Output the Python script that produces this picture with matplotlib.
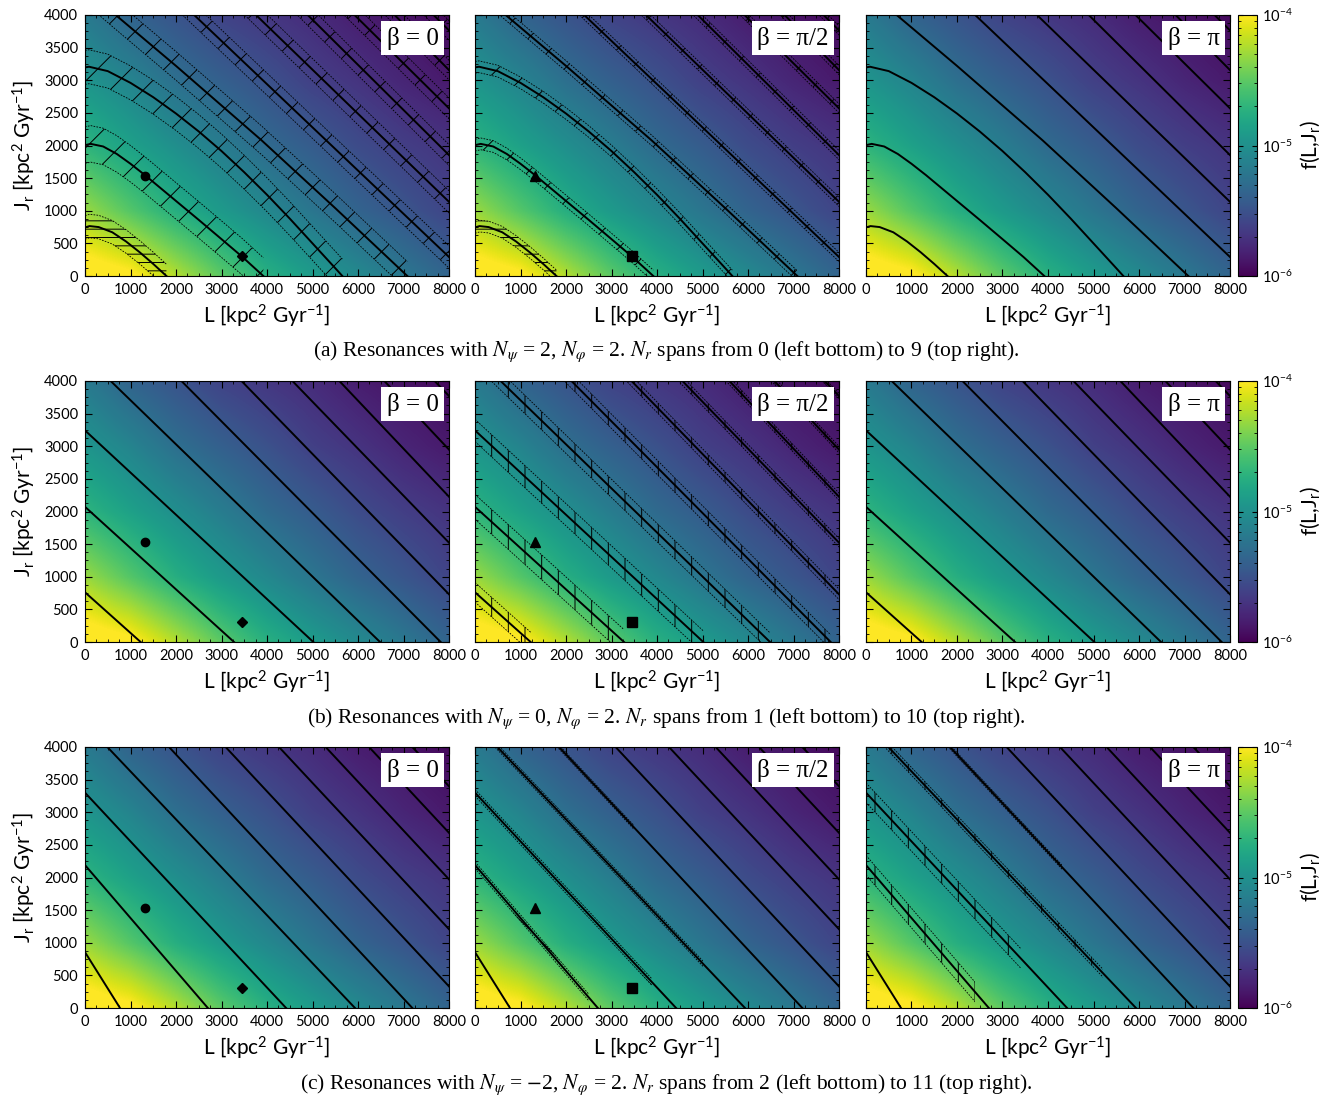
import numpy as np
import matplotlib.pyplot as plt
from matplotlib.colors import LogNorm
from matplotlib.cm import ScalarMappable
from matplotlib.patches import Rectangle
from matplotlib.ticker import MultipleLocator

plt.rcParams['font.family'] = ['Lato', 'DejaVu Sans']
plt.rcParams['mathtext.fontset'] = 'stix'
plt.rcParams['hatch.linewidth'] = 0.7
plt.rcParams['hatch.color'] = 'black'

L_nodos = [0, 1000, 2000, 3000, 4000, 5000, 6000, 7000, 8000]
Jr_nodos = [0, 1000, 2000, 3000, 4000]
log_f = [
    [-3.85, -3.95, -4.22, -4.50, -4.73, -4.90, -5.05, -5.20, -5.35],
    [-4.30, -4.53, -4.75, -4.92, -5.07, -5.22, -5.36, -5.47, -5.59],
    [-4.70, -4.86, -5.01, -5.16, -5.31, -5.42, -5.54, -5.63, -5.70],
    [-4.96, -5.10, -5.27, -5.39, -5.50, -5.62, -5.70, -5.79, -5.86],
    [-5.18, -5.36, -5.48, -5.60, -5.68, -5.75, -5.84, -5.90, -5.95],
]

# lineas de resonancia (L, Jr) por fila
lineas_a = [
    ([0, 100, 300, 600, 900, 1200, 1500, 1790], [745, 765, 750, 670, 530, 365, 185, 0]),
    ([0, 125, 400, 700, 1000, 1320, 2000, 2500, 3000, 3460, 3919],
     [2005, 2025, 1985, 1870, 1720, 1545, 1150, 860, 565, 292, 0]),
    ([0, 90, 500, 1000, 1500, 2000, 2500, 3000, 3500, 4000, 4500, 5000, 5500, 5656],
     [3197, 3207, 3140, 2960, 2740, 2490, 2215, 1915, 1590, 1245, 880, 500, 120, 0]),
    ([0, 674, 2000, 3880, 5500, 7084], [4404, 4000, 3220, 2080, 1040, 0]),
    ([0, 8440], [5589, 0]),
    ([0, 9684], [6537, 0]),
    ([0, 10680], [7385, 0]),
    ([0, 11729], [8082, 0]),
    ([0, 12470], [8804, 0]),
    ([0, 13386], [9354, 0]),
]
lineas_b = [
    ([0, 1223], [762, 0]),
    ([0, 3275], [2072, 0]),
    ([0, 5018], [3243, 0]),
    ([0, 6484], [4381, 0]),
    ([0, 7817], [5488, 0]),
    ([0, 9020], [6466, 0]),
    ([0, 10114], [7283, 0]),
    ([0, 11026], [8114, 0]),
    ([0, 11985], [8869, 0]),
    ([0, 13164], [9610, 0]),
]
lineas_c = [
    ([0, 769], [856, 0]),
    ([0, 2700], [2190, 0]),
    ([0, 4420], [3300, 0]),
    ([0, 5934], [4361, 0]),
    ([0, 7194], [5381, 0]),
    ([0, 8443], [6309, 0]),
    ([0, 9617], [7185, 0]),
    ([0, 10636], [7956, 0]),
    ([0, 11590], [8669, 0]),
    ([0, 12549], [9374, 0]),
]
lineas = [lineas_a, lineas_b, lineas_c]

# bandas rayadas: (indice de linea, semiancho en Jr, hatch, L min, L max)
bandas = {
    (0, 0): [(0, 180, '--', 0, 2300), (1, 280, '/', 0, 4300), (2, 260, '/', 0, 8000),
             (3, 220, '/', 0, 8000), (4, 170, '/', 0, 8000), (5, 170, '/', 0, 8000),
             (6, 160, '/', 0, 8000), (7, 160, '/', 0, 8000), (8, 150, '/', 0, 8000),
             (9, 150, '/', 0, 8000)],
    (0, 1): [(0, 90, '--', 0, 2000), (1, 90, '/', 0, 4000), (2, 90, '/', 0, 8000),
             (3, 80, '/', 0, 8000), (4, 70, '/', 0, 8000), (5, 70, '/', 0, 8000),
             (6, 70, '/', 0, 8000), (7, 70, '/', 0, 8000), (8, 70, '/', 0, 8000),
             (9, 70, '/', 0, 8000)],
    (1, 1): [(0, 150, '|', 0, 1400), (1, 190, '|', 0, 3400), (2, 170, '|', 0, 8000),
             (3, 140, '|', 0, 8000), (4, 110, '|', 0, 8000), (5, 80, '|', 0, 8000),
             (6, 65, '|', 0, 8000), (7, 55, '|', 0, 8000), (8, 50, '|', 0, 8000),
             (9, 40, '|', 0, 8000)],
    (2, 1): [(1, 50, '\\', 0, 2500), (2, 50, '\\', 0, 3900), (3, 40, '\\', 300, 5000),
             (4, 30, '\\', 1800, 3500)],
    (2, 2): [(1, 150, '|', 0, 2400), (2, 150, '|', 0, 3400), (3, 60, '|', 400, 5200),
             (4, 30, '|', 1800, 4300)],
}

# puntos de referencia
marca_L = [1320, 3450]
marca_Jr = [1540, 300]
marcas = [['o', 'D'], ['^', 's'], []]
tam_marcas = {'o': 6, 'D': 5.5, '^': 7, 's': 6.5}

betas = ['β = 0', 'β = π/2', 'β = π']
leyendas = [
    r'(a) Resonances with $N_\psi$ = 2, $N_\varphi$ = 2. $N_r$ spans from 0 (left bottom) to 9 (top right).',
    r'(b) Resonances with $N_\psi$ = 0, $N_\varphi$ = 2. $N_r$ spans from 1 (left bottom) to 10 (top right).',
    r'(c) Resonances with $N_\psi$ = $-$2, $N_\varphi$ = 2. $N_r$ spans from 2 (left bottom) to 11 (top right).',
]

W, H = 1333, 1099
fig = plt.figure(figsize=(W / 100, H / 100), dpi=100)

col_x = [85, 475, 866]
fila_y = [15, 381, 747]
ancho, alto = 364, 261
leyenda_y = [352, 719, 1085]

for r in range(3):
    for c in range(3):
        ax = fig.add_axes([col_x[c] / W, 1 - (fila_y[r] + alto) / H, ancho / W, alto / H])
        ax.imshow(log_f, extent=[-500, 8500, -500, 4500], origin='lower', cmap='viridis',
                  vmin=-6, vmax=-4, interpolation='bilinear', interpolation_stage='data',
                  aspect='auto')
        for Lp, Jp in lineas[r]:
            ax.plot(Lp, Jp, color='k', lw=1.4)
        for i, w, h, lo, hi in bandas.get((r, c), []):
            Lp = np.array(lineas[r][i][0], dtype=float)
            Jp = np.array(lineas[r][i][1], dtype=float)
            recorte = Rectangle((lo, 0), hi - lo, 4000, transform=ax.transData)
            fb = ax.fill_between(Lp, Jp - w, Jp + w, facecolor='none', edgecolor='k',
                                 hatch=h, linewidth=0)
            fb.set_clip_path(recorte)
            for s in (-1, 1):
                ln, = ax.plot(Lp, Jp + s * w, color='k', lw=0.6, dashes=(2, 1.5))
                ln.set_clip_path(recorte)
        for k, m in enumerate(marcas[c]):
            ax.plot(marca_L[k], marca_Jr[k], marker=m, color='k', ms=tam_marcas[m], ls='none')

        ax.set_xlim(0, 8000)
        ax.set_ylim(0, 4000)
        ax.xaxis.set_major_locator(MultipleLocator(1000))
        ax.xaxis.set_minor_locator(MultipleLocator(250))
        ax.yaxis.set_major_locator(MultipleLocator(500))
        ax.yaxis.set_minor_locator(MultipleLocator(125))
        ax.tick_params(which='both', direction='in', top=True, right=True, labelsize=10.5,
                       pad=5)
        ax.tick_params(which='major', length=5, width=0.8)
        ax.tick_params(which='minor', length=2.5, width=0.6)
        if c > 0:
            ax.tick_params(labelleft=False)
        else:
            ax.set_ylabel(r'J$\mathregular{_r}$ [kpc$\mathregular{^2}$ Gyr$\mathregular{^{-1}}$]',
                          fontsize=15)
        ax.set_xlabel(r'L [kpc$\mathregular{^2}$ Gyr$\mathregular{^{-1}}$]', fontsize=15,
                      labelpad=4)
        ax.text(0.972, 0.955, betas[c], transform=ax.transAxes, ha='right', va='top',
                fontsize=18, family='Liberation Serif',
                bbox=dict(facecolor='white', edgecolor='none', pad=4))

    cax = fig.add_axes([1238 / W, 1 - (fila_y[r] + alto) / H, 19 / W, alto / H])
    cb = fig.colorbar(ScalarMappable(norm=LogNorm(1e-6, 1e-4), cmap='viridis'), cax=cax)
    cb.set_ticks([1e-6, 1e-5, 1e-4],
                 labels=[r'10$\mathregular{^{-6}}$', r'10$\mathregular{^{-5}}$',
                         r'10$\mathregular{^{-4}}$'])
    cax.tick_params(which='both', direction='in', left=True, right=True, labelsize=10.5)
    cb.set_label(r'f(L,J$\mathregular{_r}$)', fontsize=15)
    cb.outline.set_linewidth(0.8)

    fig.text(0.5, 1 - leyenda_y[r] / H, leyendas[r], ha='center', va='center',
             fontsize=15.5, family='Liberation Serif')

fig.savefig('out.png', dpi=100)
